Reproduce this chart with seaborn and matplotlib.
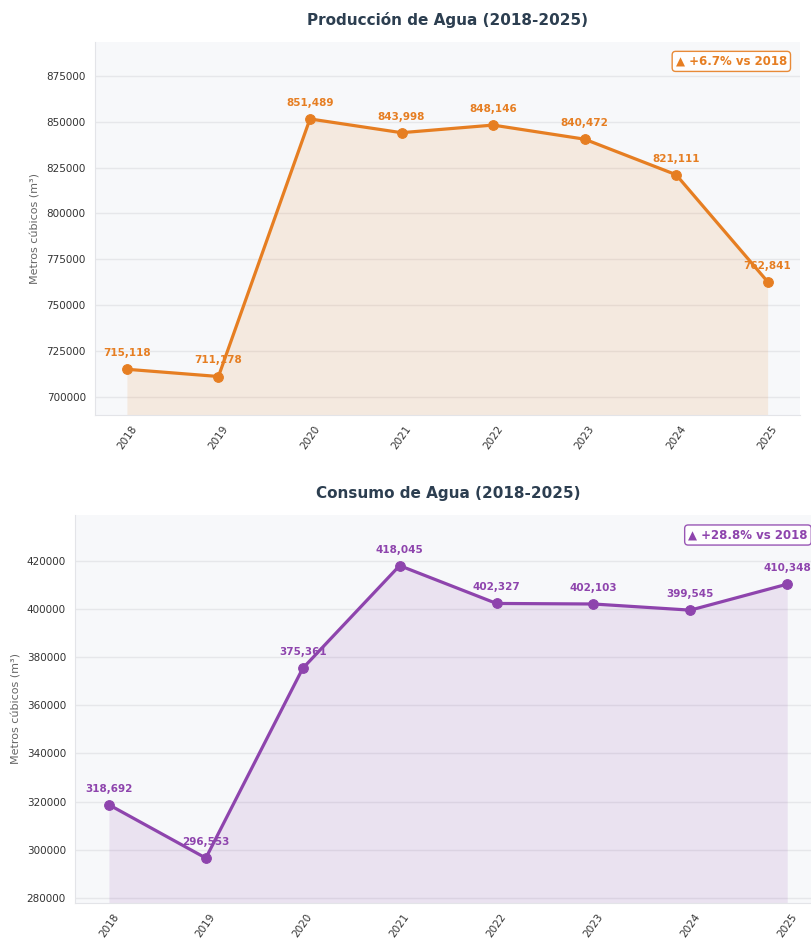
import matplotlib
matplotlib.use("Agg")
import matplotlib.pyplot as plt
import seaborn as sns
import pandas as pd
from matplotlib.ticker import MultipleLocator

# data
years = [2018, 2019, 2020, 2021, 2022, 2023, 2024, 2025]
produccion = [715118, 711178, 851489, 843998, 848146, 840472, 821111, 762841]
consumo = [318692, 296553, 375361, 418045, 402327, 402103, 399545, 410348]

sns.set_theme(style="whitegrid")
plt.rcParams['font.family'] = ['DejaVu Sans']

fig = plt.figure(figsize=(8.11, 9.40), dpi=100)
ax1 = fig.add_axes([0.117, 0.5585, 0.869, 0.397])
ax2 = fig.add_axes([0.0925, 0.0394, 0.92, 0.4128])


def draw_panel(ax, values, color, title, ylim, step):
    df = pd.DataFrame({'year': [str(y) for y in years], 'value': values})
    xs = list(range(len(years)))
    ax.set_facecolor('#f7f8fa')
    ax.fill_between(xs, values, ylim[0], color=color, alpha=0.12, linewidth=0)
    sns.lineplot(data=df, x='year', y='value', ax=ax, color=color,
                 linewidth=2.3, marker='o', markersize=7,
                 markeredgecolor=color, sort=False)
    for x, v in zip(xs, values):
        ax.annotate(f"{v:,}", (x, v), xytext=(0, 8), textcoords='offset points',
                    ha='center', va='bottom', fontsize=7.5, fontweight='bold',
                    color=color)
    ax.set_ylim(*ylim)
    ax.set_xlim(-0.35, 7.35)
    ax.yaxis.set_major_locator(MultipleLocator(step))
    ax.ticklabel_format(axis='y', style='plain', useOffset=False)
    ax.set_title(title, fontsize=11, fontweight='bold', color='#2c3e50', pad=12)
    ax.set_xlabel('')
    ax.set_ylabel('Metros cúbicos (m³)', fontsize=8, color='#666666')
    ax.grid(axis='x', visible=False)
    ax.grid(axis='y', color='#e6e7ea', linewidth=1)
    ax.tick_params(axis='both', labelsize=7.5, length=3, width=0.8,
                   color='#555555', labelcolor='#333333')
    ax.tick_params(axis='x', labelrotation=55)
    for s in ['top', 'right']:
        ax.spines[s].set_visible(False)
    for s in ['left', 'bottom']:
        ax.spines[s].set_color('#e3e4e8')
        ax.spines[s].set_linewidth(0.8)
    pct = (values[-1] - values[0]) / values[0] * 100
    ax.text(0.982, 0.965, f"▲ {pct:+.1f}% vs {years[0]}", transform=ax.transAxes,
            ha='right', va='top', fontsize=8.5, fontweight='bold', color=color,
            bbox=dict(boxstyle='round,pad=0.3', facecolor='white',
                      edgecolor=color, linewidth=1, alpha=0.9))


draw_panel(ax1, produccion, '#e67e22', 'Producción de Agua (2018-2025)',
           (690200, 893500), 25000)
draw_panel(ax2, consumo, '#8e44ad', 'Consumo de Agua (2018-2025)',
           (277900, 439100), 20000)

fig.savefig('out.png', dpi=100)
